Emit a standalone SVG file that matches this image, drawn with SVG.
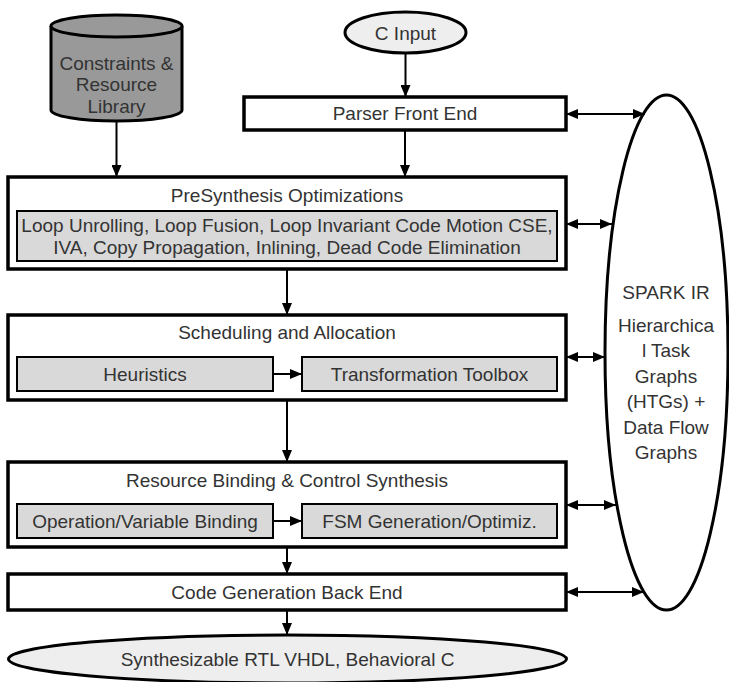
<svg xmlns="http://www.w3.org/2000/svg" width="729" height="682" viewBox="0 0 729 682">
<style>
text{font-family:"Liberation Sans",Arial,sans-serif;font-size:19px;fill:#333;text-anchor:middle}
.outer{fill:#fff;stroke:#000;stroke-width:3.5}
.inner{fill:#d9d9d9;stroke:#000;stroke-width:2}
.term{fill:#eee;stroke:#000;stroke-width:3}
.conn{stroke:#000;stroke-width:2;fill:none}
</style>
<defs>
<marker id="ah" viewBox="0 0 12 10" refX="12" refY="5" markerWidth="12" markerHeight="10" markerUnits="userSpaceOnUse" orient="auto-start-reverse">
<path d="M0,0 L12,5 L0,10 Z" fill="#000"/>
</marker>
</defs>
<g id="constraints">
<path d="M51,26 L51,110 A65.5,11 0 0 0 182,110 L182,26" fill="#999" stroke="#000" stroke-width="3"/>
<ellipse cx="116.5" cy="26" rx="65.5" ry="11" fill="#999" stroke="#000" stroke-width="3"/>
<text x="116.5" y="69.5">Constraints &amp;</text>
<text x="116.5" y="91">Resource</text>
<text x="116.5" y="112.5">Library</text>
</g>
<g id="c-input">
<ellipse class="term" cx="405.5" cy="32.5" rx="60.5" ry="20.5"/>
<text x="405.5" y="39.5">C Input</text>
</g>
<g id="parser">
<rect class="outer" x="244" y="97" width="322" height="33"/>
<text x="405" y="120">Parser Front End</text>
</g>
<g id="presynthesis">
<rect class="outer" x="8" y="177" width="558" height="92"/>
<text x="287" y="201.5">PreSynthesis Optimizations</text>
<rect class="inner" x="17" y="211" width="540" height="50"/>
<text x="287" y="232">Loop Unrolling, Loop Fusion, Loop Invariant Code Motion CSE,</text>
<text x="287" y="253.5">IVA, Copy Propagation, Inlining, Dead Code Elimination</text>
</g>
<g id="scheduling">
<rect class="outer" x="8" y="315" width="558" height="85"/>
<text x="287" y="338.5">Scheduling and Allocation</text>
<rect class="inner" x="17" y="357" width="256" height="34"/>
<text x="145" y="381">Heuristics</text>
<rect class="inner" x="302" y="357" width="255" height="34"/>
<text x="429.5" y="381">Transformation Toolbox</text>
</g>
<g id="binding">
<rect class="outer" x="8" y="462" width="558" height="85"/>
<text x="287" y="486.5">Resource Binding &amp; Control Synthesis</text>
<rect class="inner" x="17" y="504" width="256" height="34"/>
<text x="145" y="528">Operation/Variable Binding</text>
<rect class="inner" x="302" y="504" width="255" height="34"/>
<text x="429.5" y="528">FSM Generation/Optimiz.</text>
</g>
<g id="codegen">
<rect class="outer" x="8" y="574" width="558" height="36"/>
<text x="287" y="599">Code Generation Back End</text>
</g>
<g id="output">
<ellipse class="term" cx="287.5" cy="659" rx="279" ry="24"/>
<text x="287.5" y="666">Synthesizable RTL VHDL, Behavioral C</text>
</g>
<g id="spark-ir">
<ellipse cx="666.5" cy="352.5" rx="61.5" ry="257.5" fill="#fff" stroke="#000" stroke-width="3"/>
<text x="666" y="299">SPARK IR</text>
<text x="666" y="332">Hierarchica</text>
<text x="666" y="357">l Task</text>
<text x="666" y="383">Graphs</text>
<text x="666" y="408">(HTGs) +</text>
<text x="666" y="434">Data Flow</text>
<text x="666" y="459">Graphs</text>
</g>
<g id="connectors">
<line class="conn" x1="116.5" y1="122" x2="116.5" y2="177" marker-end="url(#ah)"/>
<line class="conn" x1="405.5" y1="53" x2="405.5" y2="97" marker-end="url(#ah)"/>
<line class="conn" x1="405" y1="130" x2="405" y2="177" marker-end="url(#ah)"/>
<line class="conn" x1="287" y1="269" x2="287" y2="315" marker-end="url(#ah)"/>
<line class="conn" x1="287" y1="400" x2="287" y2="462" marker-end="url(#ah)"/>
<line class="conn" x1="287" y1="547" x2="287" y2="574" marker-end="url(#ah)"/>
<line class="conn" x1="287" y1="610" x2="287" y2="635" marker-end="url(#ah)"/>
<line class="conn" x1="273" y1="374" x2="302" y2="374" marker-end="url(#ah)"/>
<line class="conn" x1="273" y1="521" x2="302" y2="521" marker-end="url(#ah)"/>
<line class="conn" x1="566" y1="114" x2="645" y2="114" marker-start="url(#ah)" marker-end="url(#ah)"/>
<line class="conn" x1="566" y1="224" x2="612" y2="224" marker-start="url(#ah)" marker-end="url(#ah)"/>
<line class="conn" x1="566" y1="357" x2="605" y2="357" marker-start="url(#ah)" marker-end="url(#ah)"/>
<line class="conn" x1="566" y1="505" x2="616" y2="505" marker-start="url(#ah)" marker-end="url(#ah)"/>
<line class="conn" x1="566" y1="592" x2="644" y2="592" marker-start="url(#ah)" marker-end="url(#ah)"/>
</g>
</svg>
